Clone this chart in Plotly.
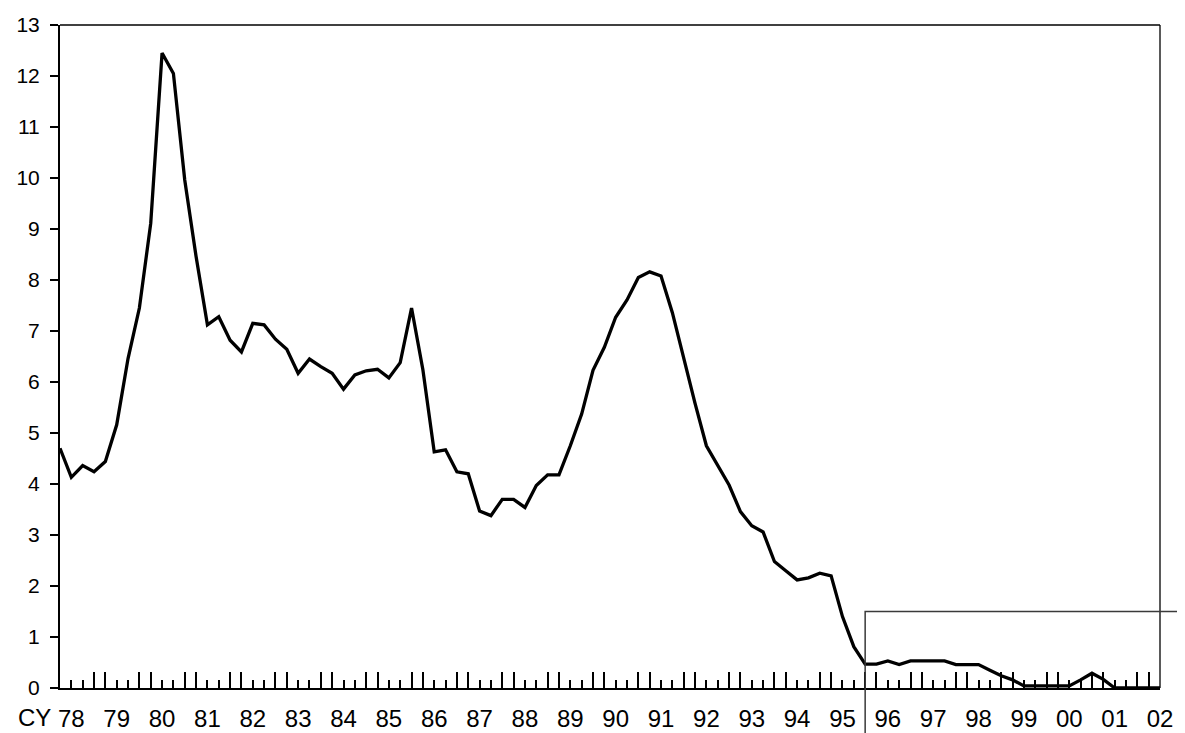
import plotly.graph_objects as go

# quarterly series, CY 78 .. 02
values = [
    4.70, 4.13, 4.36, 4.24, 4.44, 5.16, 6.46, 7.45, 9.11, 12.45,
    12.05, 9.96, 8.46, 7.12, 7.28, 6.82, 6.59, 7.15, 7.12, 6.84,
    6.64, 6.17, 6.45, 6.30, 6.17, 5.86, 6.14, 6.22, 6.25, 6.08,
    6.38, 7.45, 6.24, 4.63, 4.67, 4.24, 4.20, 3.47, 3.38, 3.70,
    3.70, 3.54, 3.97, 4.18, 4.18, 4.75, 5.37, 6.23, 6.68, 7.27,
    7.61, 8.05, 8.16, 8.08, 7.36, 6.45, 5.58, 4.75, 4.35, 3.98,
    3.46, 3.18, 3.06, 2.48, 2.30, 2.12, 2.16, 2.25, 2.20, 1.40,
    0.81, 0.47, 0.47, 0.53, 0.46, 0.53, 0.53, 0.53, 0.53, 0.46,
    0.46, 0.46, 0.35, 0.24, 0.16, 0.04, 0.04, 0.04, 0.04, 0.04,
    0.16, 0.29, 0.17, 0.00, 0.00, 0.00, 0.00, 0.00,
]
quarters = list(range(len(values)))

year_labels = ["78", "79", "80", "81", "82", "83", "84", "85",
               "86", "87", "88", "89", "90", "91", "92", "93", "94", "95",
               "96", "97", "98", "99", "00", "01", "02"]
label_pos = [1 + 4 * k for k in range(len(year_labels))]
axis_prefix = "CY"

# highlighted window (starts at quarter 71, up to 1.5)
box_start = 71
box_top = 1.5

x_max = len(values) - 1
y_max = 13

tall_ticks = [q for q in quarters if q % 4 in (0, 3)]
small_ticks = [q for q in quarters if q % 4 in (1, 2)]

font = dict(family="Liberation Sans, Arial, sans-serif", color="black")
label_size = 24
label_standoff = 14

fig = go.Figure()

fig.add_trace(
    go.Scatter(x=quarters, y=values, mode="lines",
               line=dict(color="black", width=3.3), showlegend=False,
               hoverinfo="skip")
)
# empty trace so the label axis gets drawn
fig.add_trace(
    go.Scatter(x=[], y=[], xaxis="x2", yaxis="y", showlegend=False,
               hoverinfo="skip")
)

fig.update_layout(
    width=1185, height=733,
    margin=dict(l=52, r=33, t=17, b=53),
    paper_bgcolor="white", plot_bgcolor="white",
    font=font,
    xaxis=dict(
        range=[0, x_max], showgrid=False, zeroline=False, automargin=False,
        showline=True, linecolor="black", linewidth=2,
        tickmode="array", tickvals=tall_ticks, ticks="inside",
        ticklen=16, tickwidth=1.6, tickcolor="black",
        showticklabels=False,
        minor=dict(tickmode="array", tickvals=small_ticks, ticks="inside",
                   ticklen=8, tickwidth=1.6, tickcolor="black"),
    ),
    xaxis2=dict(
        range=[0, x_max], overlaying="x", anchor="y", side="bottom",
        showgrid=False, zeroline=False, showline=False, ticks="",
        automargin=False, tickangle=0,
        tickmode="array", tickvals=label_pos, ticktext=year_labels,
        tickfont=dict(size=label_size), ticklabelstandoff=label_standoff,
    ),
    yaxis=dict(
        range=[0, y_max], dtick=1, showgrid=False, zeroline=False,
        automargin=False,
        showline=True, linecolor="black", linewidth=2,
        ticks="outside", ticklen=8, tickwidth=1.6, tickcolor="black",
        tickfont=dict(size=21), ticklabelstandoff=6,
    ),
)

# "CY" in front of the first year label
fig.add_annotation(
    text=axis_prefix, xref="x", yref="paper", x=label_pos[0], y=0,
    xanchor="right", yanchor="top", xshift=-19, yshift=-label_standoff - 1,
    showarrow=False, font=dict(size=label_size), borderpad=0,
)

# thin top and right frame
fig.add_shape(type="line", xref="x domain", yref="y domain",
              x0=0, x1=1, y0=1, y1=1, line=dict(color="black", width=1.3))
fig.add_shape(type="line", xref="x domain", yref="y domain",
              x0=1, x1=1, y0=0, y1=1, line=dict(color="black", width=1.3))

# grey box around the recent period, running off the page
fig.add_shape(type="rect", xref="x domain", yref="y domain",
              x0=box_start / x_max, x1=1.05,
              y0=-0.12, y1=box_top / y_max,
              line=dict(color="#3a3a3a", width=1.5), fillcolor="rgba(0,0,0,0)")

fig.write_html("out.html")
